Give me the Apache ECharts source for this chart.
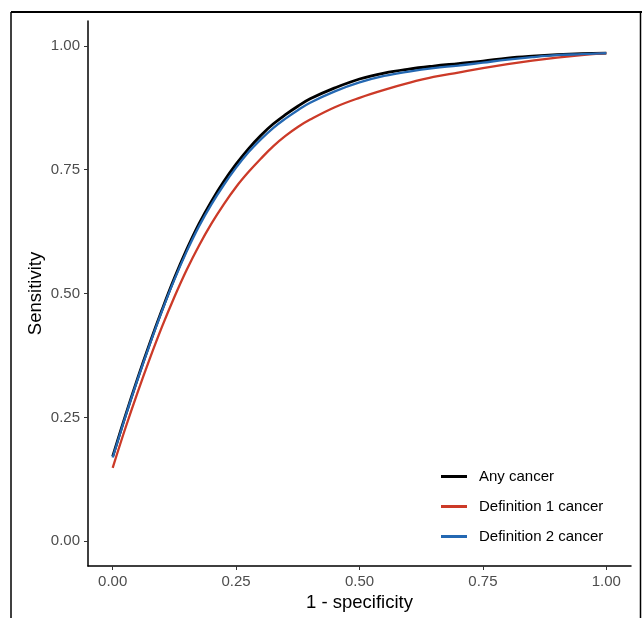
<!DOCTYPE html>
<html>
<head>
<meta charset="utf-8">
<script src="https://cdn.jsdelivr.net/npm/echarts@6/dist/echarts.min.js"></script>
<style>
  html, body { margin: 0; padding: 0; background: #fff; }
  #roc { width: 642px; height: 618px; }
</style>
</head>
<body>
<div id="roc"></div>
<script>
// 1 - specificity
var fpr = [0, 0.025, 0.05, 0.075, 0.1, 0.125, 0.15, 0.175, 0.2, 0.225, 0.25, 0.275, 0.3, 0.325, 0.35, 0.375, 0.4,
  0.45, 0.5, 0.55, 0.6, 0.65, 0.7, 0.75, 0.8, 0.85, 0.9, 0.95, 1.0];
// sensitivity per curve
var anyCancer = [0.171, 0.251, 0.327, 0.399, 0.467, 0.531, 0.589, 0.641, 0.686, 0.726, 0.761, 0.792, 0.819, 0.842, 0.861, 0.878, 0.893,
  0.915, 0.933, 0.945, 0.953, 0.959, 0.964, 0.969, 0.975, 0.979, 0.982, 0.984, 0.985];
var def1Cancer = [0.148, 0.226, 0.299, 0.368, 0.433, 0.493, 0.548, 0.597, 0.641, 0.68, 0.715, 0.745, 0.772, 0.797, 0.818, 0.836, 0.851,
  0.876, 0.895, 0.911, 0.925, 0.937, 0.946, 0.955, 0.963, 0.97, 0.976, 0.981, 0.985];
var def2Cancer = [0.169, 0.249, 0.325, 0.397, 0.465, 0.528, 0.585, 0.636, 0.68, 0.719, 0.754, 0.785, 0.811, 0.834, 0.853, 0.87, 0.885,
  0.908, 0.926, 0.939, 0.948, 0.955, 0.96, 0.966, 0.972, 0.977, 0.981, 0.983, 0.985];
var tickVals = [0, 0.25, 0.5, 0.75, 1];
var seriesNames = ['Any cancer', 'Definition 1 cancer', 'Definition 2 cancer'];

function pairs(ys) {
  var out = [];
  for (var i = 0; i < fpr.length; i++) out.push([fpr[i], ys[i]]);
  return out;
}

var font = 'Liberation Sans, Arial, sans-serif';
var axisCommon = {
  type: 'value',
  min: -0.05,
  max: 1.05,
  splitLine: { show: false },
  axisLine: { show: true, onZero: false, lineStyle: { color: '#000', width: 1.5 } },
  axisTick: { show: true, customValues: tickVals, length: 4, lineStyle: { color: '#333', width: 1 } },
  axisLabel: {
    customValues: tickVals,
    color: '#4d4d4d',
    fontSize: 15,
    fontFamily: font,
    margin: 8,
    formatter: function (v) { return v.toFixed(2); }
  },
  nameLocation: 'middle',
  nameTextStyle: { color: '#000', fontSize: 18.5, fontFamily: font }
};

var myChart = echarts.init(document.getElementById('roc'));
var option = {
  animation: false,
  backgroundColor: '#fff',
  color: ['#000000', '#cc3a28', '#2468b2'],
  grid: { left: 88, right: 11, top: 21, bottom: 52 },
  xAxis: echarts.util.merge({ name: '1 - specificity', nameGap: 26 }, axisCommon, true),
  yAxis: echarts.util.merge({ name: 'Sensitivity', nameGap: 43, nameMoveOverlap: false }, axisCommon, true),
  legend: {
    orient: 'vertical',
    left: 441,
    top: 469,
    padding: 0,
    icon: 'rect',
    itemWidth: 26,
    itemHeight: 3,
    itemGap: 15,
    textStyle: { color: '#000', fontSize: 15, fontFamily: font, padding: [0, 0, 0, 7] },
    data: seriesNames
  },
  series: [
    { name: seriesNames[0], type: 'line', data: pairs(anyCancer), smooth: 0.4, showSymbol: false, lineStyle: { width: 2.8 } },
    { name: seriesNames[1], type: 'line', data: pairs(def1Cancer), smooth: 0.4, showSymbol: false, lineStyle: { width: 2.3 } },
    { name: seriesNames[2], type: 'line', data: pairs(def2Cancer), smooth: 0.4, showSymbol: false, lineStyle: { width: 2.3 } }
  ],
  graphic: [
    // frame around the figure
    { type: 'line', shape: { x1: 11, y1: 12, x2: 642, y2: 12 }, style: { stroke: '#000', lineWidth: 2 } },
    { type: 'line', shape: { x1: 11, y1: 12, x2: 11, y2: 618 }, style: { stroke: '#000', lineWidth: 1.5 } },
    { type: 'line', shape: { x1: 640.5, y1: 12, x2: 640.5, y2: 618 }, style: { stroke: '#000', lineWidth: 1.5 } }
  ]
};
myChart.setOption(option);
</script>
</body>
</html>
